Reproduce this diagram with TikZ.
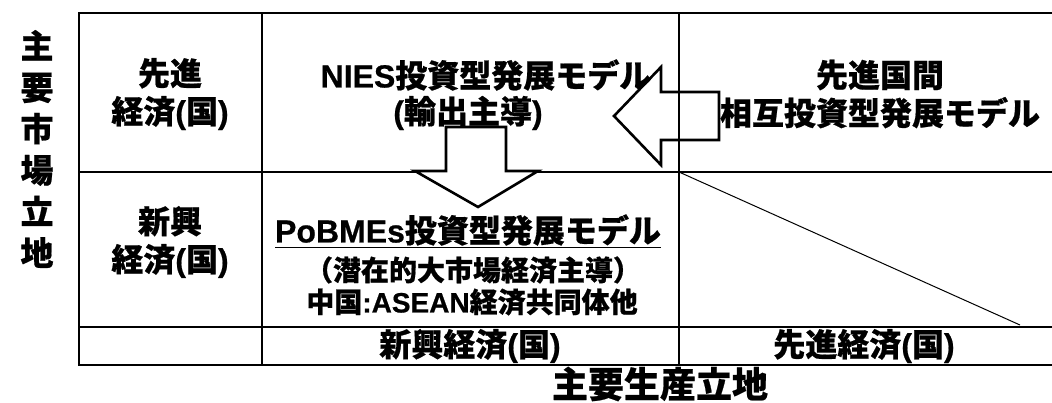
\documentclass[tikz,border=0pt]{standalone}
\usepackage{fontspec}
\setmainfont{Noto Sans CJK JP}[BoldFeatures={FakeBold=0.6}]
\newfontfamily\lat{Liberation Sans}[BoldFeatures={FakeBold=0.6}]
\begin{document}
\begin{tikzpicture}[x=1pt,y=-1pt,
  grid/.style={line width=2.6pt},
  fat/.style={draw, line width=2.6pt, fill=white, line join=miter},
  big/.style={inner sep=0, align=center, font=\bfseries\fontsize{32}{38}\selectfont},
  mid/.style={inner sep=0, align=center, font=\bfseries\fontsize{28}{32}\selectfont}]
\useasboundingbox (0,0) rectangle (1052,402);
% horizontal grid lines
\draw[grid] (1052,13) -- (79,13) -- (79,365) -- (1052,365);
\draw[grid] (79,172) -- (1052,172);
\draw[grid] (79,327) -- (1052,327);
% diagonal
\coordinate (d1) at (679,172);
\coordinate (d2) at (1020,325);
\draw[line width=1pt] (d1) -- (d2);
% arrows
\draw[fat] (719,92) -- (661,92) -- (661,67) -- (614,116) -- (661,165) -- (661,140) -- (719,140) -- cycle;
\draw[fat] (446,127) -- (506,127) -- (506,171) -- (538,171) -- (478,207) -- (415,171) -- (446,171) -- cycle;
% vertical grid lines
\draw[grid] (262,13) -- (262,365);
\draw[grid] (679,13) -- (679,365);
% texts
\node[big, font=\bfseries\fontsize{33}{41.4}\selectfont] (ylab) at (37,149) {主\\要\\市\\場\\立\\地};
\node[big] (r1c1) at (170,94) {先進\\経済{\lat(}国{\lat)}};
\node[big] (r1c2a) at (486,75) {{\lat NIES}投資型発展モデル};
\node[big] (r1c2b) at (468,113) {{\lat(}輸出主導{\lat)}};
\node[big] (r1c3) at (880,94) {先進国間\\相互投資型発展モデル};
\node[big] (r2c1) at (170,242) {新興\\経済{\lat(}国{\lat)}};
\node[big] (r2c2a) at (468,231) {\underline{{\lat PoBMEs}投資型発展モデル}};
\node[mid] (r2c2b) at (473,270) {（潜在的大市場経済主導）};
\node[mid] (r2c2c) at (472,302) {中国{\lat:ASEAN}経済共同体他};
\node[big] (r3c2) at (470,346) {新興経済{\lat(}国{\lat)}};
\node[big] (r3c3) at (864,346) {先進経済{\lat(}国{\lat)}};
\node[big, font=\bfseries\fontsize{36}{38}\selectfont] (xlab) at (660,384) {主要生産立地};
\end{tikzpicture}
\end{document}
